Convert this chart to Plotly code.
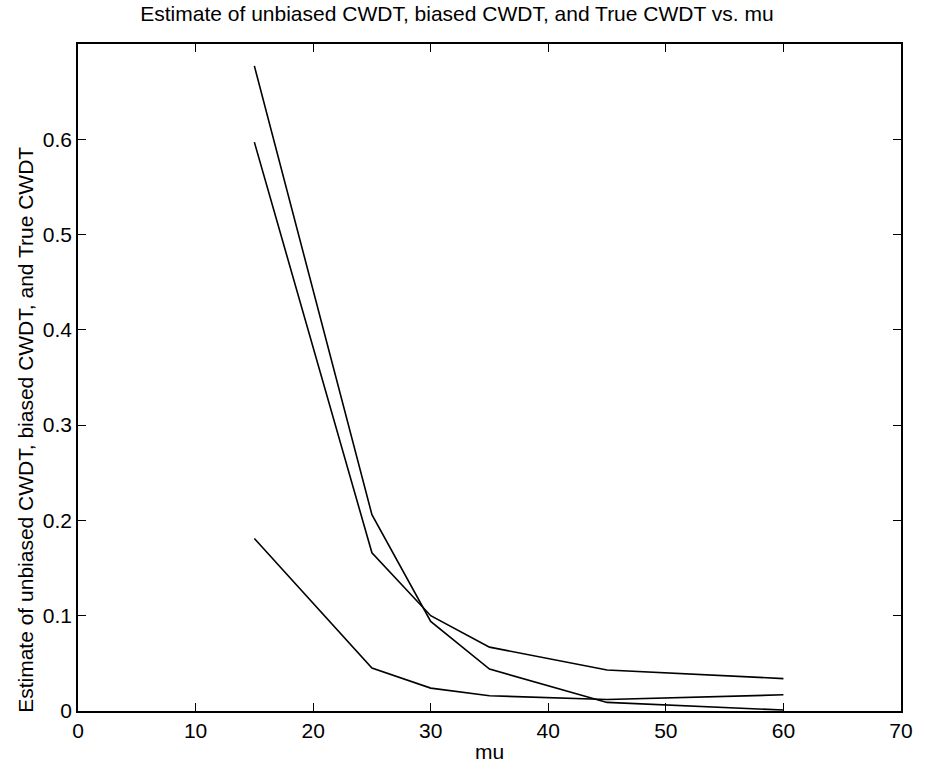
import plotly.graph_objects as go

mu = [15, 25, 30, 35, 45, 60]
cwdt_a = [0.677, 0.206, 0.094, 0.044, 0.009, 0.001]
cwdt_b = [0.597, 0.166, 0.100, 0.067, 0.043, 0.034]
cwdt_c = [0.181, 0.045, 0.024, 0.016, 0.012, 0.017]

x_ticks = [0, 10, 20, 30, 40, 50, 60, 70]
y_ticks = [0, 0.1, 0.2, 0.3, 0.4, 0.5, 0.6]
y_tick_text = ["0", "0.1", "0.2", "0.3", "0.4", "0.5", "0.6"]

fig = go.Figure()
for ys in (cwdt_a, cwdt_b, cwdt_c):
    fig.add_trace(go.Scatter(x=mu, y=ys, mode="lines",
                             line=dict(color="black", width=1.6),
                             showlegend=False, hoverinfo="skip"))

font = "Liberation Sans, Arial, sans-serif"
fig.update_layout(
    width=925, height=772,
    margin=dict(l=78, r=13, t=44, b=57),
    paper_bgcolor="white", plot_bgcolor="white",
    title=dict(text="Estimate of unbiased CWDT, biased CWDT, and True CWDT vs. mu",
               x=0.494, xanchor="center", y=0.982, yanchor="middle",
               font=dict(family=font, size=21, color="black")),
    font=dict(family=font, size=21, color="black"),
)
fig.add_annotation(text="Estimate of unbiased CWDT, biased CWDT, and True CWDT",
                   xref="paper", yref="paper", x=-0.064, y=0.422,
                   xanchor="center", yanchor="middle", textangle=-90,
                   showarrow=False, font=dict(family=font, size=21, color="black"))
fig.update_xaxes(range=[0, 70], tickvals=x_ticks, ticks="inside", ticklen=8,
                 tickcolor="black", showline=True, linecolor="black", linewidth=1.5,
                 mirror="ticks", showgrid=False, zeroline=False,
                 tickfont=dict(family=font, size=21),
                 title=dict(text="mu", font=dict(family=font, size=21), standoff=3))
fig.update_yaxes(range=[0, 0.7], tickvals=y_ticks, ticktext=y_tick_text,
                 ticks="inside", ticklen=8,
                 tickcolor="black", showline=True, linecolor="black", linewidth=1.5,
                 mirror="ticks", showgrid=False, zeroline=False,
                 tickfont=dict(family=font, size=21))

fig.write_html("out.html")
